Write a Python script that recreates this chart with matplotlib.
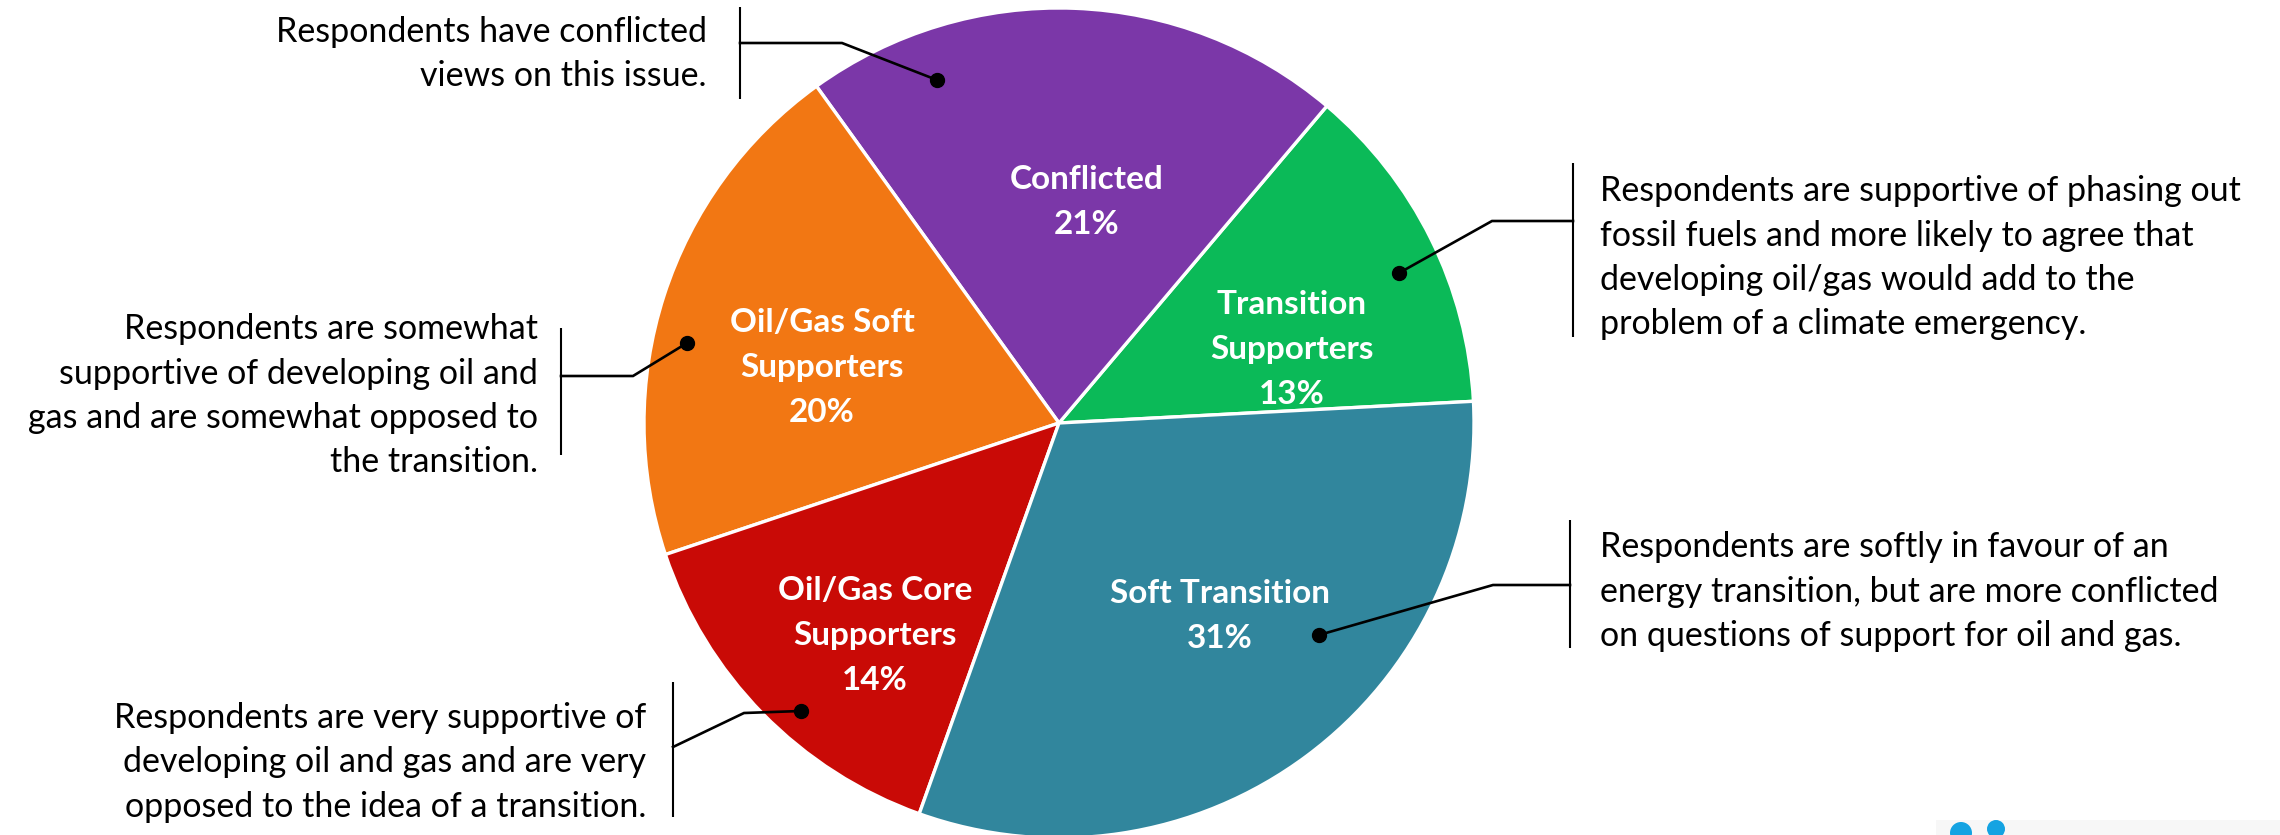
import matplotlib
matplotlib.use("Agg")
import matplotlib.pyplot as plt
from matplotlib.patches import Circle, Rectangle

# data: segments in drawing order (counter-clockwise from ~3 o'clock)
segments = ["Transition\nSupporters", "Conflicted", "Oil/Gas Soft\nSupporters",
            "Oil/Gas Core\nSupporters", "Soft Transition"]
shares = [13.0, 21.1, 20.2, 14.4, 31.3]
colors = ["#0BBA58", "#7B37A8", "#F27713", "#C90A06", "#31869D"]

notes = [
    ["Respondents are supportive of phasing out",
     "fossil fuels and more likely to agree that",
     "developing oil/gas would add to the",
     "problem of a climate emergency."],
    ["Respondents have conflicted",
     "views on this issue."],
    ["Respondents are somewhat",
     "supportive of developing oil and",
     "gas and are somewhat opposed to",
     "the transition."],
    ["Respondents are very supportive of",
     "developing oil and gas and are very",
     "opposed to the idea of a transition."],
    ["Respondents are softly in favour of an",
     "energy transition, but are more conflicted",
     "on questions of support for oil and gas."],
]

# layout (pixels, y down)
W, H = 2280, 835
cx, cy, R = 1059, 423, 415
label_pos = [(1292, 349), (1087, 202), (822, 367), (875, 635), (1220, 616)]
# text anchor x, alignment, first line y, bar x, bar y0/y1, connector path
note_layout = [
    (1600, "left", 191, 1573, 163, 337, [(1573, 221), (1492, 221), (1399, 273)]),
    (707, "right", 32, 740, 7, 99, [(740, 43), (842, 43), (937, 80)]),
    (538, "right", 329, 561, 328, 455, [(561, 376), (633, 376), (687, 343)]),
    (646, "right", 718, 673, 682, 817, [(673, 747), (744, 713), (801, 711)]),
    (1600, "left", 547, 1570, 520, 648, [(1570, 585), (1493, 585), (1319, 635)]),
]
line_gap = 44.5

FONT = ["Lato", "DejaVu Sans"]

fig = plt.figure(figsize=(W / 100, H / 100), dpi=100)
fig.patch.set_facecolor("white")
ax = fig.add_axes([0, 0, 1, 1])

ax.pie(shares, colors=colors, center=(cx, cy), radius=R,
       startangle=-3, counterclock=False,
       wedgeprops=dict(edgecolor="white", linewidth=2.4))
ax.set_xlim(0, W)
ax.set_ylim(H, 0)
ax.axis("off")

renderer = fig.canvas.get_renderer()


def fit_size(text, target_px, **kw):
    t = fig.text(0, 0, text, fontsize=20, family=FONT, **kw)
    w = t.get_window_extent(renderer=renderer).width
    t.remove()
    return 20 * target_px / w


pie_fs = fit_size("Oil/Gas Core", 194, weight="bold")
note_fs = fit_size("Respondents have conflicted", 432)

# labels inside the pie
for name, val, (lx, ly) in zip(segments, shares, label_pos):
    lines = name.split("\n") + [f"{round(val)}%"]
    n = len(lines)
    for i, s in enumerate(lines):
        yy = ly + (i - (n - 1) / 2) * 45
        ax.text(lx, yy, s, ha="center", va="center", color="white",
                fontsize=pie_fs, weight="bold", family=FONT)

# side notes with bracket connectors
for lines, (tx, ha, y0, bx, by0, by1, path) in zip(notes, note_layout):
    for i, s in enumerate(lines):
        ax.text(tx, y0 + i * line_gap, s, ha=ha, va="center",
                fontsize=note_fs, color="black", family=FONT)
    ax.plot([bx, bx], [by0, by1], color="black", lw=1.5,
            solid_capstyle="butt")
    xs, ys = zip(*path)
    ax.plot(xs, ys, color="black", lw=1.9, solid_joinstyle="miter")
    ax.plot(xs[-1], ys[-1], "o", color="black", ms=10)

# bits of a logo cut off at the bottom right
ax.add_patch(Rectangle((1936, 820), W - 1936, 20, color="#F7F7F7", lw=0,
                       zorder=0))
ax.add_patch(Circle((1961, 833), 11, color="#14A3E2", lw=0))
ax.add_patch(Circle((1996, 829), 9, color="#14A3E2", lw=0))

fig.savefig("out.png", dpi=100, facecolor="white")
